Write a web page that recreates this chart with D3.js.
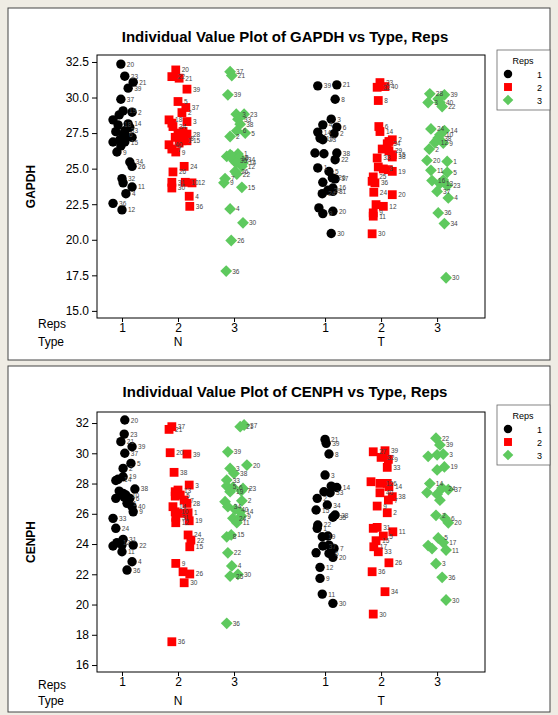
<!DOCTYPE html>
<html><head><meta charset="utf-8">
<script src="https://cdn.jsdelivr.net/npm/d3@7"></script>
<style>body{margin:0;background:#efece4;}svg{display:block}</style>
</head><body><svg id="c" width="558" height="715"></svg>
<script>
// ---------- data ----------
const types = ["N", "T"];
const reps = ["1", "2", "3"];
const gapdhTicks = [15.0, 17.5, 20.0, 22.5, 25.0, 27.5, 30.0, 32.5];
const cenphTicks = [16, 18, 20, 22, 24, 26, 28, 30, 32];

// jitter values are in hundredths of the spacing between reps
const gapdh_N1_v = [32.35,31.5,31.08,30.66,29.88,28.97,29.06,28.78,28.43,28.08,28.15,27.9,27.66,27.38,26.87,27.03,26.87,26.17,25.47,25.16,24.3,24.0,23.71,23.24,22.56,22.1,27.3,27.6,27.2,26.6];
const gapdh_N1_j = [-2,5,20,11,-2,18,2,-5,-16,-7,11,14,5,2,-16,-4,5,-9,14,18,0,2,18,7,-16,0,7,-11,18,-2];
const gapdh_N1_l = ["20","23","21","39","37","2","19","","","18","14","","33","6","","","15","9","34","26","32","","11","4","36","12","","","",""];

const gapdh_N2_v = [31.94,31.47,31.36,30.59,29.72,29.3,28.94,28.43,28.2,28.31,27.96,27.61,27.38,27.43,27.15,26.96,26.96,26.68,26.38,26.17,25.16,24.77,24.04,24.04,24.0,23.64,23.06,22.35,27.5,27.2,26.8];
const gapdh_N2_j = [-4,-11,2,16,0,14,7,-16,-11,16,-9,9,5,16,11,7,16,-16,-11,-4,11,-9,-11,13,25,-11,20,21,0,-5,2];
const gapdh_N2_l = ["20","22","21","39","5","37","2","18","","3","34","","","28","8","1","15","40","7","9","24","26","31","10","12","30","4","36","","",""];

const gapdh_N3_v = [31.82,31.54,30.19,28.83,28.83,28.48,28.13,27.66,27.5,27.26,25.86,25.98,26.03,25.7,25.56,25.63,25.4,25.16,24.8,24.62,24.3,24.0,23.69,22.17,21.19,19.95,17.8,25.9,25.8,25.4];
const gapdh_N3_j = [-7,-4,-11,4,18,7,11,5,20,-7,-13,-7,7,2,0,14,16,14,2,5,-16,-18,14,-7,16,-5,-14,-4,9,4];
const gapdh_N3_l = ["37","21","39","3","23","33","38","6","5","2","","","1","10","35","34","14","12","26","22","7","9","15","4","30","26","36","","8",""];

const gapdh_T1_v = [30.82,30.89,29.88,28.48,28.08,27.92,27.57,27.45,27.15,27.03,26.1,26.05,26.1,25.63,25.05,24.8,24.35,24.28,24.04,23.64,23.48,23.24,23.4,22.24,21.84,22.0,20.44];
const gapdh_T1_j = [-13,21,18,11,-4,21,-13,16,-9,-4,-18,-2,21,18,-13,7,13,18,-4,14,5,-5,14,-11,-4,14,11];
const gapdh_T1_l = ["39","21","8","3","4","6","14","2","10","23","","","38","22","1","5","26","37","","16","29","24","31","","9","20","30"];

const gapdh_T2_v = [31.05,30.72,30.77,29.79,27.96,27.61,27.03,26.91,26.75,26.38,26.26,25.98,25.82,25.75,25.12,24.98,24.93,24.81,24.42,24.0,24.11,23.34,23.17,22.47,22.35,21.89,21.66,20.42];
const gapdh_T2_j = [-2,-7,7,-5,-4,-2,20,14,11,2,14,20,20,-7,-5,4,13,20,-14,-11,-16,-13,20,-9,4,-14,-14,-16];
const gapdh_T2_l = ["23","32","40","8","6","14","2","","34","","29","15","38","33","","3","","19","25","36","","24","20","","12","9","11","30"];

const gapdh_T3_v = [30.26,30.19,29.65,29.65,29.37,27.79,27.68,27.38,27.15,26.84,26.8,26.38,25.58,25.51,24.88,24.74,24.16,23.95,23.8,23.4,22.94,21.89,21.14,17.33,29.9,27.0,24.2];
const gapdh_T3_j = [-13,13,-16,5,9,-11,13,5,2,-4,11,-14,-18,18,-11,18,-9,5,18,0,20,2,13,16,2,0,11];
const gapdh_T3_l = ["28","39","3","40","22","24","14","10","38","12","9","2","20","1","11","5","16","13","23","37","4","36","34","30","","",""];

const cenph_N1_v = [32.2,31.27,30.77,30.43,30.0,29.33,29.0,28.45,28.28,28.2,27.35,27.64,27.24,27.02,27.02,26.69,26.47,26.13,25.7,25.04,24.31,23.87,24.09,23.93,23.93,23.49,22.83,22.28,27.5,27.1];
const cenph_N1_j = [5,4,-2,18,5,16,2,2,-7,-11,2,23,7,-11,14,9,18,20,-16,-11,2,-16,-9,0,20,0,18,9,-5,4];
const cenph_N1_l = ["20","23","21","39","37","5","2","19","14","","","38","10","","6","1","40","9","33","24","31","","12","","22","11","4","36","",""];

const cenph_N2_v = [31.76,31.58,30.04,29.95,28.74,27.9,27.57,27.46,27.24,27.17,26.91,26.69,26.47,26.13,26.03,26.07,25.77,25.54,25.41,24.6,24.26,23.82,22.72,22.17,22.02,21.44,17.54];
const cenph_N2_j = [-11,-16,-14,16,-7,20,0,-5,4,-5,11,16,-9,-5,9,18,-4,20,-4,18,23,21,-4,9,21,11,-11];
const cenph_N2_l = ["37","21","20","39","38","3","13","","5","","7","28","14","10","","1","31","19","12","24","22","15","9","","26","30","36"];

const cenph_N3_v = [31.76,31.87,30.1,29.22,29.0,28.67,28.23,27.83,27.75,27.68,27.46,27.52,26.86,26.8,26.47,26.29,26.13,25.85,25.7,25.41,24.48,24.6,23.42,22.55,21.88,22.0,18.76];
const cenph_N3_j = [11,18,-11,23,-7,0,-13,-13,-2,16,-7,13,14,-16,-11,2,11,13,-2,5,-13,-5,-11,-4,-7,7,-13];
const cenph_N3_l = ["21","37","39","20","3","38","33","5","6","23","19","7","2","","34","40","14","9","24","11","8","15","22","4","25","30","36"];

const cenph_T1_v = [30.92,30.66,29.95,28.56,27.83,27.74,27.46,27.39,27.02,26.58,26.25,25.92,25.77,25.26,25.04,24.48,24.53,23.87,23.93,23.71,23.42,23.38,23.12,22.46,21.73,20.69,20.08];
const cenph_T1_j = [0,2,7,0,11,21,-2,9,-14,4,-16,18,14,-13,-14,-5,5,-4,7,16,-16,7,14,-9,-9,-5,14];
const cenph_T1_l = ["21","39","8","3","","14","","33","2","34","15","38","35","22","1","19","","37","","7","","6","20","12","9","11","30"];

const cenph_T2_v = [30.1,30.17,29.73,29.6,29.07,28.12,28.01,28.01,27.79,27.39,27.13,26.91,26.51,26.07,25.04,25.1,24.81,24.53,24.22,23.82,23.49,22.76,22.17,20.85,19.37];
const cenph_T2_j = [-14,7,0,13,11,-18,-2,11,14,-2,20,13,-7,11,-14,-7,21,4,-9,-13,-5,14,-16,7,-14];
const cenph_T2_l = ["27","39","32","9","33","","12","6","14","40","38","7","9","2","","31","11","5","15","17","33","26","36","34","30"];

const cenph_T3_v = [31.0,30.55,29.9,29.95,29.8,29.1,28.9,28.0,27.7,27.6,27.3,27.4,26.9,25.9,25.7,25.4,24.4,24.1,23.9,23.7,23.6,22.7,21.8,20.3];
const cenph_T3_j = [-2,5,0,11,-16,13,0,-13,9,20,0,-18,5,-2,14,20,2,11,-16,-9,16,-2,9,16];
const cenph_T3_l = ["22","39","","3","","19","","14","24","37","","","","2","6","20","5","17","","","11","3","36","30"];

// ---------- build group tables ----------
function mk(type, rep, v, j, l) { return {type, rep, v, j, l}; }
const gapdhGroups = [
  mk("N","1",gapdh_N1_v,gapdh_N1_j,gapdh_N1_l), mk("N","2",gapdh_N2_v,gapdh_N2_j,gapdh_N2_l), mk("N","3",gapdh_N3_v,gapdh_N3_j,gapdh_N3_l),
  mk("T","1",gapdh_T1_v,gapdh_T1_j,gapdh_T1_l), mk("T","2",gapdh_T2_v,gapdh_T2_j,gapdh_T2_l), mk("T","3",gapdh_T3_v,gapdh_T3_j,gapdh_T3_l)];
const cenphGroups = [
  mk("N","1",cenph_N1_v,cenph_N1_j,cenph_N1_l), mk("N","2",cenph_N2_v,cenph_N2_j,cenph_N2_l), mk("N","3",cenph_N3_v,cenph_N3_j,cenph_N3_l),
  mk("T","1",cenph_T1_v,cenph_T1_j,cenph_T1_l), mk("T","2",cenph_T2_v,cenph_T2_j,cenph_T2_l), mk("T","3",cenph_T3_v,cenph_T3_j,cenph_T3_l)];

// ---------- drawing ----------
const svg = d3.select("#c");
const FONT = "'Liberation Sans', Arial, sans-serif";
const typeGap = 1.625;
const pos = (type, rep) => types.indexOf(type) * (reps.length - 1 + typeGap) + reps.indexOf(rep);
const colors = {"1": "#000000", "2": "#ff0000", "3": "#5ec95e"};

function marker(sel, rep, s) {
  s = s || 1;
  if (rep === "1") sel.append("circle").attr("r", 4.7 * s).attr("fill", colors[rep]);
  else if (rep === "2") sel.append("rect").attr("x", -4.4 * s).attr("y", -4.4 * s).attr("width", 8.8 * s).attr("height", 8.8 * s).attr("fill", colors[rep]);
  else { const d = 5.9 * s; sel.append("path").attr("d", `M0,${-d}L${d},0L0,${d}L${-d},0Z`).attr("fill", colors[rep]); }
}

function panel(cfg) {
  const g = svg.append("g");
  g.append("rect").attr("x", 8).attr("y", cfg.py0).attr("width", 542).attr("height", cfg.py1 - cfg.py0)
    .attr("fill", "#fff").attr("stroke", "#444").attr("stroke-width", 1);
  g.append("text").attr("x", 285).attr("y", cfg.titleY).attr("text-anchor", "middle")
    .attr("font-family", FONT).attr("font-weight", "bold").attr("font-size", 15).text(cfg.title);

  const x = d3.scaleLinear().domain([-0.446, 6.48]).range([97, 485]);
  const y = d3.scaleLinear().domain(cfg.yDomain).range([cfg.fb, cfg.ft]);

  g.append("rect").attr("x", 97).attr("y", cfg.ft).attr("width", 388).attr("height", cfg.fb - cfg.ft)
    .attr("fill", "#fff").attr("stroke", "#000").attr("stroke-width", 1);

  const ya = d3.axisLeft(y).tickValues(cfg.ticks).tickFormat(cfg.fmt).tickSize(5).tickPadding(3);
  const yg = g.append("g").attr("transform", "translate(97,0)").call(ya);
  yg.select(".domain").remove();
  yg.selectAll("text").attr("font-family", FONT).attr("font-size", 12).attr("fill", "#000");
  yg.selectAll("line").attr("stroke", "#000");

  const cats = [];
  types.forEach(t => reps.forEach(r => cats.push({t, r, p: pos(t, r)})));
  const xa = d3.axisBottom(x).tickValues(cats.map(c => c.p)).tickFormat((d, i) => cats[i].r).tickSize(4).tickPadding(1);
  const xg = g.append("g").attr("transform", `translate(0,${cfg.fb})`).call(xa);
  xg.select(".domain").remove();
  xg.selectAll("text").attr("font-family", FONT).attr("font-size", 12).attr("fill", "#000");
  xg.selectAll("line").attr("stroke", "#000");
  types.forEach(t => {
    g.append("text").attr("x", x(pos(t, "2"))).attr("y", cfg.typeY).attr("text-anchor", "middle")
      .attr("font-family", FONT).attr("font-size", 12).text(t);
  });
  g.append("text").attr("x", 38).attr("y", cfg.repsY).attr("font-family", FONT).attr("font-size", 12).text("Reps");
  g.append("text").attr("x", 38).attr("y", cfg.typeY).attr("font-family", FONT).attr("font-size", 12).text("Type");

  g.append("text").attr("transform", `translate(35,${(cfg.ft + cfg.fb) / 2}) rotate(-90)`).attr("text-anchor", "middle")
    .attr("font-family", FONT).attr("font-weight", "bold").attr("font-size", 12).text(cfg.ylabel);

  cfg.groups.forEach(grp => {
    const c = pos(grp.type, grp.rep);
    const pts = grp.v.map((v, i) => ({v, j: grp.j[i] / 100, l: grp.l[i]}));
    const pg = g.append("g");
    pts.forEach(p => {
      const m = pg.append("g").attr("transform", `translate(${x(c + p.j)},${y(p.v)})`);
      marker(m, grp.rep);
    });
    pts.forEach(p => {
      if (!p.l) return;
      pg.append("text").attr("x", x(c + p.j) + 6).attr("y", y(p.v) + 2.5)
        .attr("font-family", FONT).attr("font-size", 6.5).attr("fill", "#444").text(p.l);
    });
  });

  const lg = g.append("g");
  lg.append("rect").attr("x", 497).attr("y", cfg.legY).attr("width", 53).attr("height", 60)
    .attr("fill", "#fff").attr("stroke", "#666").attr("stroke-width", 0.8);
  lg.append("text").attr("x", 523).attr("y", cfg.legY + 14).attr("text-anchor", "middle")
    .attr("font-family", FONT).attr("font-size", 9).text("Reps");
  reps.forEach((r, i) => {
    const yy = cfg.legY + 24 + i * 13;
    const m = lg.append("g").attr("transform", `translate(508,${yy})`);
    marker(m, r, 0.9);
    lg.append("text").attr("x", 537).attr("y", yy + 3.5).attr("font-family", FONT).attr("font-size", 9).text(r);
  });
}

panel({py0: 8, py1: 360, titleY: 42, title: "Individual Value Plot of GAPDH vs Type, Reps",
  ft: 55, fb: 318, yDomain: [14.5, 32.99], ticks: gapdhTicks, fmt: d3.format(".1f"),
  repsY: 328, typeY: 346, ylabel: "GAPDH", groups: gapdhGroups, legY: 50});
panel({py0: 366, py1: 712, titleY: 397, title: "Individual Value Plot of CENPH vs Type, Reps",
  ft: 412, fb: 672, yDomain: [15.54, 32.73], ticks: cenphTicks, fmt: d3.format("d"),
  repsY: 689, typeY: 705, ylabel: "CENPH", groups: cenphGroups, legY: 405});
</script></body></html>
